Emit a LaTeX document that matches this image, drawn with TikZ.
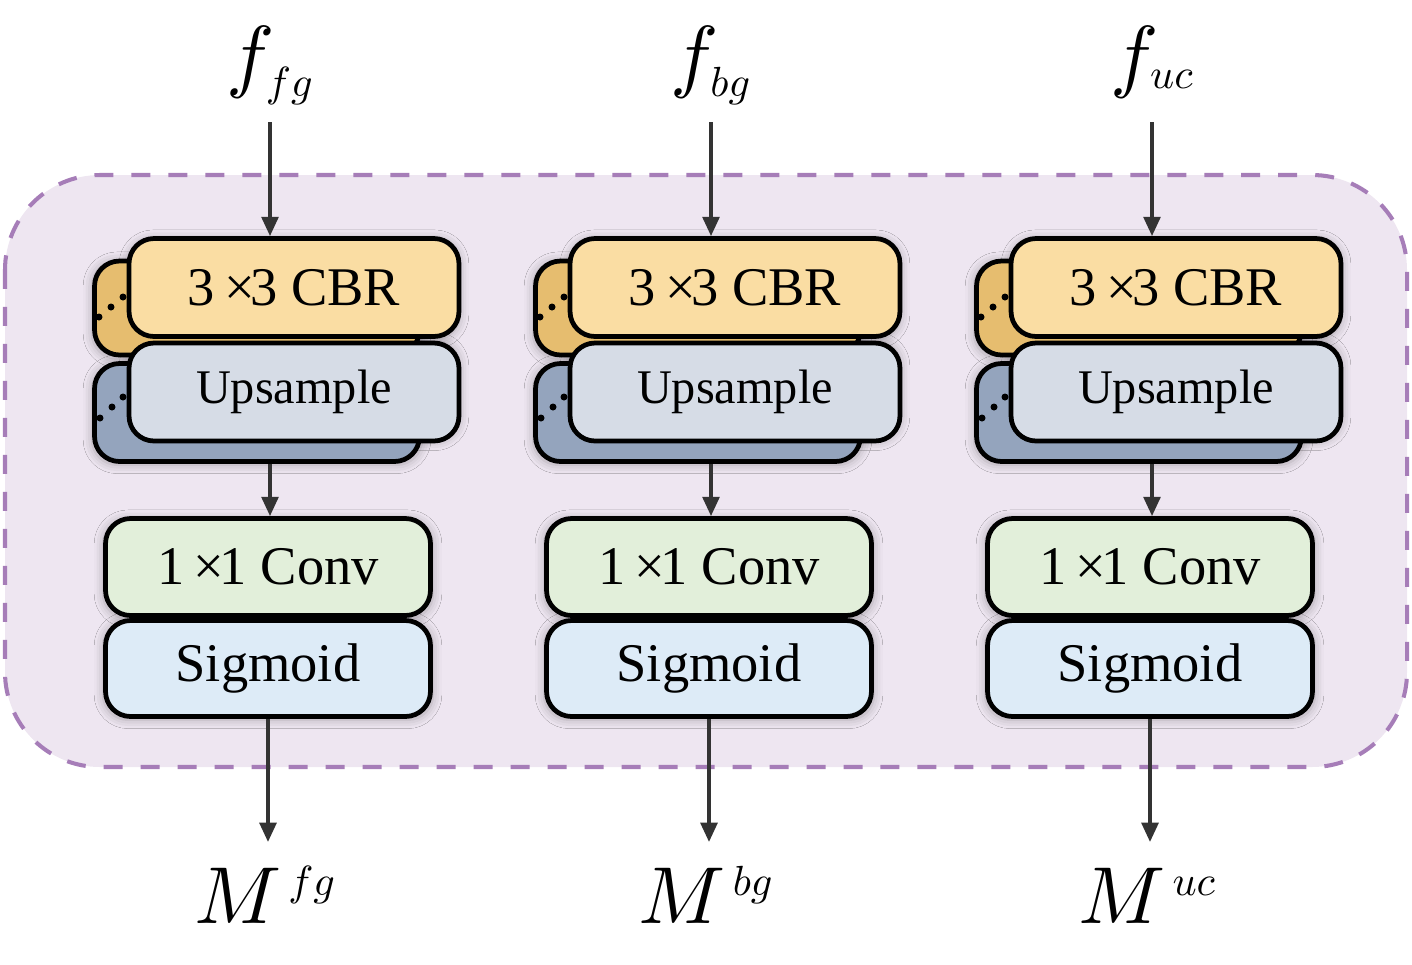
\documentclass[tikz,border=0pt]{standalone}
\usepackage{fontspec}
\setmainfont{Liberation Serif}
\DeclareFontShape{OML}{cmm}{m}{it}{<->cmmi10}{}
\DeclareMathSizes{46}{46}{24}{18}
\usetikzlibrary{arrows.meta,shadows.blur}
\definecolor{outerfill}{HTML}{EEE6F1}
\definecolor{outerdash}{HTML}{A67DB8}
\definecolor{cbrfront}{HTML}{FADDA3}
\definecolor{cbrback}{HTML}{E6BD6F}
\definecolor{upfront}{HTML}{D6DCE6}
\definecolor{upback}{HTML}{94A4BD}
\definecolor{convfill}{HTML}{E2EFDA}
\definecolor{sigfill}{HTML}{DDEBF7}
\definecolor{arrowc}{HTML}{333333}
\tikzset{
  outerbox/.style={draw=outerdash, fill=outerfill, line width=2.3pt, rounded corners=1.9cm, dash pattern=on 0.38cm off 0.36cm},
  blk/.style={draw=black, line width=2.7pt, rounded corners=0.5cm, inner sep=0pt, minimum width=6.5cm, font=\fontsize{31}{36}\selectfont},
  shadowbox/.style={rounded corners=0.5cm, blur shadow={shadow xshift=0pt, shadow yshift=-1pt, shadow blur radius=5pt, shadow opacity=28}},
  conn/.style={draw=arrowc, line width=2.1pt, -{Triangle[length=11pt,width=9.5pt]}},
  lbl/.style={inner sep=0pt, font=\fontsize{46}{50}\selectfont},
  dotm/.style={fill=black}
}
\begin{document}
\begin{tikzpicture}[x=0.02cm,y=-0.02cm]
\useasboundingbox (0,0) rectangle (1412,964);
\draw[outerbox] (5,175) rectangle (1407,767);
% shadow pass
\foreach \dx in {0,441,882} {
  \path[shadowbox] (92+\dx,259) rectangle (422+\dx,357);
  \path[shadowbox] (92+\dx,362) rectangle (422+\dx,463);
  \path[shadowbox] (128+\dx,237) rectangle (460+\dx,338);
  \path[shadowbox] (128+\dx,339) rectangle (460+\dx,440);
  \path[shadowbox] (103+\dx,517) rectangle (433+\dx,617);
  \path[shadowbox] (103+\dx,619) rectangle (433+\dx,718);
}
\foreach \i/\dx/\sub in {1/0/fg, 2/441/bg, 3/882/uc} {
  % back boxes
  \node[blk, fill=cbrback, minimum height=1.88cm] (cbrb\i) at (257+\dx,308) {};
  \node[blk, fill=upback, minimum height=1.96cm] (upb\i) at (257+\dx,412.5) {};
  \fill[dotm] (123+\dx,297) circle (0.07cm) (111+\dx,307) circle (0.07cm) (99+\dx,317) circle (0.07cm);
  \fill[dotm] (123+\dx,397) circle (0.07cm) (112+\dx,407) circle (0.07cm) (100+\dx,418) circle (0.07cm);
  % front boxes
  \node[blk, fill=cbrfront, minimum width=6.6cm, minimum height=1.96cm] (cbr\i) at (294+\dx,287.5) {3\,×\kern-0.08em3 CBR};
  \node[blk, fill=upfront, minimum width=6.6cm, minimum height=1.96cm, font=\fontsize{27.5}{32}\selectfont] (up\i) at (294+\dx,392) {Upsample};
  \node[blk, fill=convfill, minimum height=1.94cm] (conv\i) at (268+\dx,567) {1\,×\kern-0.08em1 Conv};
  \node[blk, fill=sigfill, minimum height=1.92cm] (sig\i) at (268+\dx,668.5) {\raisebox{-0.08em}{Sigmoid}};
  % labels
  \node[lbl, anchor=base] (f\i) at (270+\dx,82) {$f_{\sub}$};
  \node[lbl, anchor=base] (M\i) at (265+\dx,923) {$M^{\kern4pt\raisebox{6.5pt}{$\scriptstyle\sub$}}$};
  \coordinate (ts\i) at (270+\dx,122);
  \coordinate (me\i) at (268+\dx,842);
  % connectors
  \draw[conn] (ts\i) -- (ts\i |- cbr\i.north);
  \draw[conn] (upb\i.south -| ts\i) -- (conv\i.north -| ts\i);
  \draw[conn] (sig\i.south) -- (me\i);
}
\end{tikzpicture}
\end{document}
